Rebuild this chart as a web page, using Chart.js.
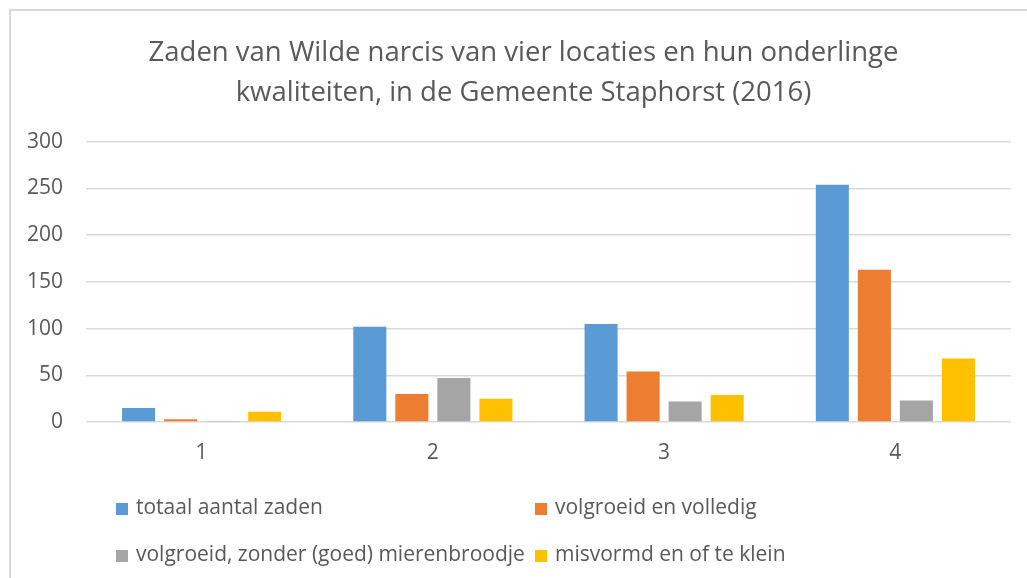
<!DOCTYPE html>
<html>
<head>
<meta charset="utf-8">
<script src="https://cdn.jsdelivr.net/npm/chart.js@4.4.1/dist/chart.umd.min.js"></script>
<style>
  body { margin: 0; background: #fff; }
  #wrap { position: absolute; left: 0; top: 0; width: 1027px; height: 578px; overflow: hidden; background: #fff; }
  #frame { position: absolute; left: 9px; top: 9px; width: 1100px; height: 700px; border-left: 2px solid #d9d9d9; border-top: 2px solid #d9d9d9; }
  #canvas { position: absolute; left: 0; top: 0; }
  #legend { position: absolute; left: 0; top: 0; font-family: "Open Sans", sans-serif; font-size: 21px; color: #595959; }
  .item { position: absolute; white-space: nowrap; line-height: 24px; }
  .item span { display: inline-block; width: 12px; height: 12px; margin-right: 8px; vertical-align: -1px; }
</style>
</head>
<body>
<div id="wrap">
  <div id="frame"></div>
  <canvas id="canvas" width="1027" height="578"></canvas>
  <div id="legend"></div>
</div>
<script>
document.addEventListener("DOMContentLoaded", () => {

const canvas = document.getElementById('canvas');
const ctx = canvas.getContext('2d');

// data
const locaties = ['1', '2', '3', '4']
const totaal = [15, 102, 105, 254]
const volledig = [3, 30, 54, 163]
const zonderBroodje = [1, 47, 22, 23]
const misvormd = [11, 25, 29, 68]

const seriesNames = ['totaal aantal zaden', 'volgroeid en volledig', 'volgroeid, zonder (goed) mierenbroodje', 'misvormd en of te klein']
const colors = ['#5b9bd5', '#ed7d31', '#a5a5a5', '#ffc000']
const titleLines = ['Zaden van Wilde narcis van vier locaties en hun onderlinge', 'kwaliteiten, in de Gemeente Staphorst (2016)']

const font = '"Open Sans", sans-serif'
const textColor = '#595959'

const datasets = [totaal, volledig, zonderBroodje, misvormd].map((values, i) => ({
    label: seriesNames[i],
    data: values,
    backgroundColor: colors[i],
    categoryPercentage: 0.727,
    barPercentage: 0.786
}))

// the title is centred on the whole frame, not only on the plot
const titleShift = {
    id: 'titleShift',
    afterLayout(chart) {
        chart.titleBlock.left = 20
        chart.titleBlock.right = 1027
    }
}

const myChart = new Chart(ctx, {
    type: 'bar',
    data: { labels: locaties, datasets: datasets },
    plugins: [titleShift],
    options: {
        responsive: false,
        animation: false,
        layout: { padding: { left: 0, right: 16, top: 0, bottom: 0 } },
        plugins: {
            legend: { display: false },
            tooltip: { enabled: false },
            title: {
                display: true,
                text: titleLines,
                color: textColor,
                font: { family: font, size: 27.5, weight: 'normal', lineHeight: 1.45 },
                padding: { top: 33, bottom: 29 }
            }
        },
        scales: {
            x: {
                grid: { display: false, drawTicks: false },
                border: { display: false },
                ticks: { color: textColor, font: { family: font, size: 21 }, padding: 18 },
                afterFit: (scale) => { scale.height = 156 }
            },
            y: {
                min: 0,
                max: 300,
                grid: { color: '#d9d9d9', lineWidth: 1.5, drawTicks: false },
                border: { display: false },
                ticks: { stepSize: 50, color: textColor, font: { family: font, size: 21 }, padding: 23 },
                afterFit: (scale) => { scale.width = 86 }
            }
        }
    }
})

// legend in two columns, like the original
const legend = document.getElementById('legend')
const spots = [[116, 494], [535, 494], [116, 541], [535, 541]]
seriesNames.forEach((name, i) => {
    const div = document.createElement('div')
    div.className = 'item'
    div.style.left = spots[i][0] + 'px'
    div.style.top = spots[i][1] + 'px'
    div.innerHTML = '<span style="background:' + colors[i] + '"></span>' + name
    legend.appendChild(div)
})

})
</script>
</body>
</html>
